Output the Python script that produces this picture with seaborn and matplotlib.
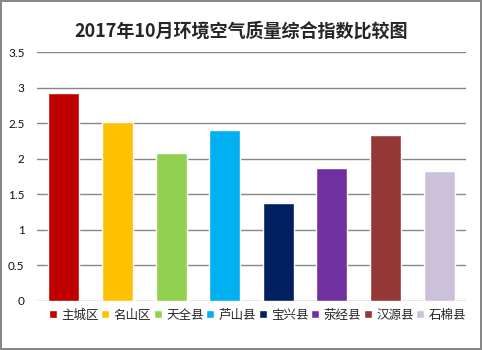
import pandas as pd
import seaborn as sns
import matplotlib.pyplot as plt

# 2017年10月 各区县环境空气质量综合指数
districts = ['主城区', '名山区', '天全县', '芦山县', '宝兴县', '荥经县', '汉源县', '石棉县']
index_values = [2.93, 2.52, 2.08, 2.40, 1.38, 1.87, 2.33, 1.83]
colors = ['#C00000', '#FFC000', '#92D050', '#00B0F0', '#002060', '#7030A0', '#953735', '#CCC1DA']
y_ticks = [0, 0.5, 1, 1.5, 2, 2.5, 3, 3.5]
y_tick_labels = ['0', '0.5', '1', '1.5', '2', '2.5', '3', '3.5']

df = pd.DataFrame({'district': districts, 'value': index_values})

sns.set_style('white')
plt.rcParams['font.family'] = ['Noto Sans CJK SC', 'DejaVu Sans']

fig = plt.figure(figsize=(4.82, 3.5), dpi=100)
fig.patch.set_edgecolor('#878787')
fig.patch.set_linewidth(1.5)
ax = fig.add_axes([0.0768, 0.1409, 0.89, 0.7097])

sns.barplot(data=df, x='district', y='value', hue='district',
            palette=colors, width=0.58, saturation=1, legend=True, ax=ax)

ax.set_ylim(0, 3.5)
ax.set_xlim(-0.5, 7.5)
ax.set_yticks(y_ticks)
ax.set_yticklabels(y_tick_labels, family=['Lato', 'DejaVu Sans'], fontsize=8.5, color='#111111')
ax.set_xticks([])
ax.set_xlabel('')
ax.set_ylabel('')
ax.tick_params(axis='y', length=0, pad=9)
ax.yaxis.grid(True, color='#878787', linewidth=1)
ax.set_axisbelow(True)
sns.despine(ax=ax, left=True, bottom=True)

fig.suptitle('2017年10月环境空气质量综合指数比较图', fontsize=13, fontweight='bold', y=0.937)

sns.move_legend(ax, 'center', bbox_to_anchor=(0.514, -0.058), ncol=8, frameon=False,
                title=None, fontsize=9, handlelength=0.65, handleheight=0.65,
                handletextpad=0.35, columnspacing=0.2, borderpad=0)

fig.savefig('out.png', dpi=100)
